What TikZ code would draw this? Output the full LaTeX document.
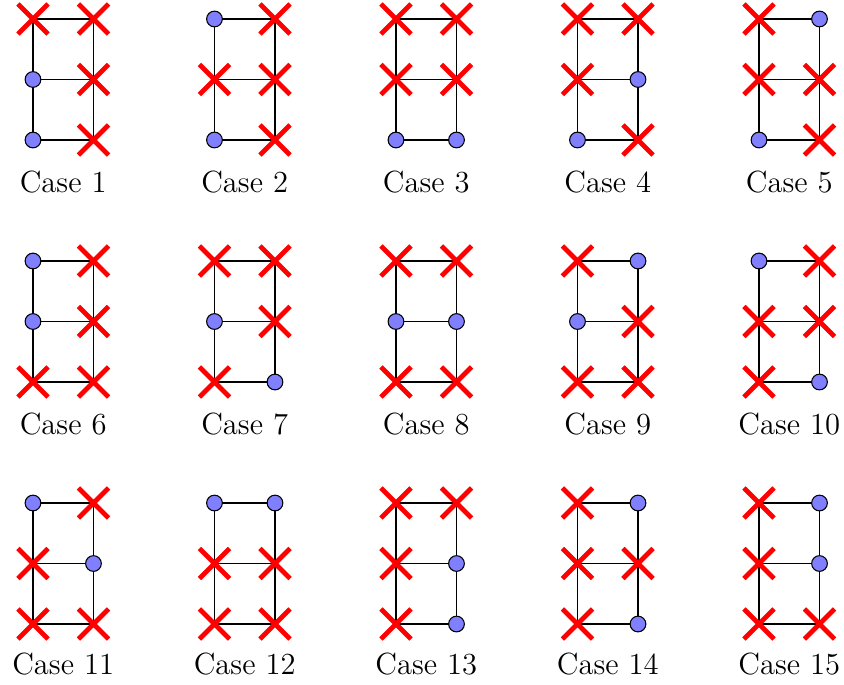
\documentclass[tikz,border=0pt]{standalone}
\usepackage{amsmath,amssymb}
\usetikzlibrary{shapes.misc,backgrounds}

\begin{document}
\begin{tikzpicture}[x=1cm,y=1cm,
  alive/.style={circle,draw=black,fill=blue!50,line width=.5pt,inner sep=0pt,minimum size=.26cm},
  dead/.style={cross out,draw=red,line width=2.2pt,inner sep=0pt,minimum size=.42cm},
  lab/.style={anchor=base,inner sep=0pt,font=\Large}]
\path[use as bounding box] (-0.545,0.314) rectangle (13.405,-10.992);
% row 1
\node[dead] (a1) at (0,0) {}; \node[dead] (b1) at (1,0) {};
\node[alive] (c1) at (0,-1) {}; \node[dead] (d1) at (1,-1) {};
\node[alive] (e1) at (0,-2) {}; \node[dead] (f1) at (1,-2) {};
\node[lab] (t1) at (0.5,-2.86) {Case 1};
\node[alive] (a2) at (3,0) {}; \node[dead] (b2) at (4,0) {};
\node[dead] (c2) at (3,-1) {}; \node[dead] (d2) at (4,-1) {};
\node[alive] (e2) at (3,-2) {}; \node[dead] (f2) at (4,-2) {};
\node[lab] (t2) at (3.5,-2.86) {Case 2};
\node[dead] (a3) at (6,0) {}; \node[dead] (b3) at (7,0) {};
\node[dead] (c3) at (6,-1) {}; \node[dead] (d3) at (7,-1) {};
\node[alive] (e3) at (6,-2) {}; \node[alive] (f3) at (7,-2) {};
\node[lab] (t3) at (6.5,-2.86) {Case 3};
\node[dead] (a4) at (9,0) {}; \node[dead] (b4) at (10,0) {};
\node[dead] (c4) at (9,-1) {}; \node[alive] (d4) at (10,-1) {};
\node[alive] (e4) at (9,-2) {}; \node[dead] (f4) at (10,-2) {};
\node[lab] (t4) at (9.5,-2.86) {Case 4};
\node[dead] (a5) at (12,0) {}; \node[alive] (b5) at (13,0) {};
\node[dead] (c5) at (12,-1) {}; \node[dead] (d5) at (13,-1) {};
\node[alive] (e5) at (12,-2) {}; \node[dead] (f5) at (13,-2) {};
\node[lab] (t5) at (12.5,-2.86) {Case 5};
% row 2
\node[alive] (a6) at (0,-4) {}; \node[dead] (b6) at (1,-4) {};
\node[alive] (c6) at (0,-5) {}; \node[dead] (d6) at (1,-5) {};
\node[dead] (e6) at (0,-6) {}; \node[dead] (f6) at (1,-6) {};
\node[lab] (t6) at (0.5,-6.86) {Case 6};
\node[dead] (a7) at (3,-4) {}; \node[dead] (b7) at (4,-4) {};
\node[alive] (c7) at (3,-5) {}; \node[dead] (d7) at (4,-5) {};
\node[dead] (e7) at (3,-6) {}; \node[alive] (f7) at (4,-6) {};
\node[lab] (t7) at (3.5,-6.86) {Case 7};
\node[dead] (a8) at (6,-4) {}; \node[dead] (b8) at (7,-4) {};
\node[alive] (c8) at (6,-5) {}; \node[alive] (d8) at (7,-5) {};
\node[dead] (e8) at (6,-6) {}; \node[dead] (f8) at (7,-6) {};
\node[lab] (t8) at (6.5,-6.86) {Case 8};
\node[dead] (a9) at (9,-4) {}; \node[alive] (b9) at (10,-4) {};
\node[alive] (c9) at (9,-5) {}; \node[dead] (d9) at (10,-5) {};
\node[dead] (e9) at (9,-6) {}; \node[dead] (f9) at (10,-6) {};
\node[lab] (t9) at (9.5,-6.86) {Case 9};
\node[alive] (a10) at (12,-4) {}; \node[dead] (b10) at (13,-4) {};
\node[dead] (c10) at (12,-5) {}; \node[dead] (d10) at (13,-5) {};
\node[dead] (e10) at (12,-6) {}; \node[alive] (f10) at (13,-6) {};
\node[lab] (t10) at (12.5,-6.86) {Case 10};
% row 3
\node[alive] (a11) at (0,-8) {}; \node[dead] (b11) at (1,-8) {};
\node[dead] (c11) at (0,-9) {}; \node[alive] (d11) at (1,-9) {};
\node[dead] (e11) at (0,-10) {}; \node[dead] (f11) at (1,-10) {};
\node[lab] (t11) at (0.5,-10.84) {Case 11};
\node[alive] (a12) at (3,-8) {}; \node[alive] (b12) at (4,-8) {};
\node[dead] (c12) at (3,-9) {}; \node[dead] (d12) at (4,-9) {};
\node[dead] (e12) at (3,-10) {}; \node[dead] (f12) at (4,-10) {};
\node[lab] (t12) at (3.5,-10.84) {Case 12};
\node[dead] (a13) at (6,-8) {}; \node[dead] (b13) at (7,-8) {};
\node[dead] (c13) at (6,-9) {}; \node[alive] (d13) at (7,-9) {};
\node[dead] (e13) at (6,-10) {}; \node[alive] (f13) at (7,-10) {};
\node[lab] (t13) at (6.5,-10.84) {Case 13};
\node[dead] (a14) at (9,-8) {}; \node[alive] (b14) at (10,-8) {};
\node[dead] (c14) at (9,-9) {}; \node[dead] (d14) at (10,-9) {};
\node[dead] (e14) at (9,-10) {}; \node[alive] (f14) at (10,-10) {};
\node[lab] (t14) at (9.5,-10.84) {Case 14};
\node[dead] (a15) at (12,-8) {}; \node[alive] (b15) at (13,-8) {};
\node[dead] (c15) at (12,-9) {}; \node[alive] (d15) at (13,-9) {};
\node[dead] (e15) at (12,-10) {}; \node[dead] (f15) at (13,-10) {};
\node[lab] (t15) at (12.5,-10.84) {Case 15};
% ladder edges behind the marks
\begin{scope}[on background layer]
\foreach \i in {1,...,15} {
  \draw[line width=.5pt] (a\i.center)--(c\i.center)--(e\i.center)--(f\i.center)--(d\i.center)--(b\i.center)--cycle;
  \draw[line width=.5pt] (c\i.center)--(d\i.center);
}
\end{scope}
\end{tikzpicture}
\end{document}
